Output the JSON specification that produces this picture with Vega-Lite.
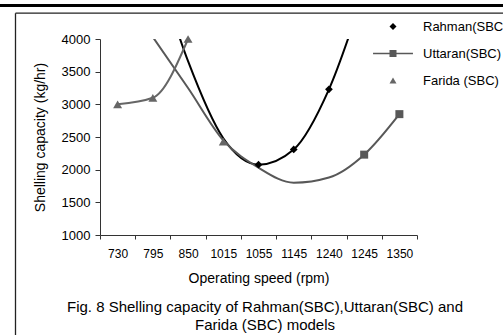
{
  "$schema": "https://vega.github.io/schema/vega-lite/v6.json",
  "autosize": {"type": "none"},
  "width": 317,
  "height": 196,
  "padding": {"left": 100, "top": 39, "right": 86, "bottom": 100},
  "background": "white",
  "config": {
    "font": "Liberation Sans",
    "view": {"stroke": null},
    "axis": {"labelColor": "#000", "titleColor": "#000", "titleFontWeight": "normal", "grid": false},
    "legend": {"labelColor": "#000"}
  },
  "title": {
    "text": ["Fig. 8 Shelling capacity of Rahman(SBC),Uttaran(SBC) and", "Farida (SBC) models"],
    "orient": "bottom",
    "anchor": "middle",
    "frame": "group",
    "offset": 0,
    "dx": 6.5,
    "dy": -61,
    "fontSize": 15,
    "fontWeight": "normal",
    "lineHeight": 18,
    "color": "#000"
  },
  "datasets": {
    "curves": [
      {"model": "Rahman(SBC)", "speed": "795", "capacity": 5300},
      {"model": "Rahman(SBC)", "speed": "850", "capacity": 3660},
      {"model": "Rahman(SBC)", "speed": "1015", "capacity": 2480},
      {"model": "Rahman(SBC)", "speed": "1055", "capacity": 2077},
      {"model": "Rahman(SBC)", "speed": "1145", "capacity": 2310},
      {"model": "Rahman(SBC)", "speed": "1240", "capacity": 3230},
      {"model": "Rahman(SBC)", "speed": "1245", "capacity": 4740},
      {"model": "Uttaran(SBC)", "speed": "795", "capacity": 4030},
      {"model": "Uttaran(SBC)", "speed": "850", "capacity": 3250},
      {"model": "Uttaran(SBC)", "speed": "1015", "capacity": 2450},
      {"model": "Uttaran(SBC)", "speed": "1055", "capacity": 2030},
      {"model": "Uttaran(SBC)", "speed": "1145", "capacity": 1800},
      {"model": "Uttaran(SBC)", "speed": "1240", "capacity": 1880},
      {"model": "Uttaran(SBC)", "speed": "1245", "capacity": 2230},
      {"model": "Uttaran(SBC)", "speed": "1350", "capacity": 2850},
      {"model": "Farida (SBC)", "speed": "730", "capacity": 3000},
      {"model": "Farida (SBC)", "speed": "795", "capacity": 3100},
      {"model": "Farida (SBC)", "speed": "850", "capacity": 4000}
    ],
    "markers": [
      {"model": "Rahman(SBC)", "speed": "1055", "capacity": 2077},
      {"model": "Rahman(SBC)", "speed": "1145", "capacity": 2310},
      {"model": "Rahman(SBC)", "speed": "1240", "capacity": 3230},
      {"model": "Uttaran(SBC)", "speed": "1245", "capacity": 2230},
      {"model": "Uttaran(SBC)", "speed": "1350", "capacity": 2850},
      {"model": "Farida (SBC)", "speed": "730", "capacity": 3000},
      {"model": "Farida (SBC)", "speed": "795", "capacity": 3100},
      {"model": "Farida (SBC)", "speed": "850", "capacity": 4000},
      {"model": "Farida (SBC)", "speed": "1015", "capacity": 2430}
    ]
  },
  "resolve": {"scale": {"x": "independent", "y": "independent"}},
  "layer": [
    {
      "encoding": {
        "x": {
          "field": "speed", "type": "ordinal", "bandPosition": 0.5,
          "scale": {"type": "band", "domain": ["730", "795", "850", "1015", "1055", "1145", "1240", "1245", "1350"], "paddingInner": 0, "paddingOuter": 0},
          "axis": {
            "title": "Operating speed (rpm)", "tickBand": "extent", "labelAngle": 0,
            "tickSize": 4, "labelPadding": 9, "labelFontSize": 12,
            "titleFontSize": 14, "titlePadding": 12,
            "domainColor": "#333", "tickColor": "#333"
          }
        },
        "y": {
          "field": "capacity", "type": "quantitative",
          "scale": {"domain": [1000, 4000], "nice": false, "zero": false},
          "axis": {
            "title": "Shelling capacity (kg/hr)", "values": [1000, 1500, 2000, 2500, 3000, 3500, 4000],
            "format": "d",
            "tickSize": 5, "labelPadding": 5, "labelFontSize": 13,
            "titleFontSize": 14, "titlePadding": 14,
            "domainColor": "#333", "tickColor": "#333"
          }
        },
        "color": {
          "field": "model", "type": "nominal",
          "scale": {"domain": ["Rahman(SBC)", "Uttaran(SBC)", "Farida (SBC)"], "range": ["#000000", "#585858", "#666666"]},
          "legend": {
            "title": null, "orient": "none", "legendX": 286.5, "legendY": -19,
            "direction": "vertical", "padding": 0,
            "symbolSize": 49, "symbolStrokeWidth": 0, "symbolOpacity": 1,
            "labelFontSize": 13, "labelOffset": 23.5, "rowPadding": 13
          }
        }
      },
      "layer": [
        {
          "data": {"name": "curves"},
          "mark": {"type": "line", "interpolate": "monotone", "strokeWidth": 2, "clip": true}
        },
        {
          "data": {"name": "markers"},
          "transform": [{"filter": "false"}],
          "mark": {"type": "point", "filled": true, "opacity": 1, "strokeWidth": 0},
          "encoding": {
            "shape": {
              "field": "model", "type": "nominal",
              "scale": {"domain": ["Rahman(SBC)", "Uttaran(SBC)", "Farida (SBC)"], "range": ["diamond", "M-5.7,-0.22H5.7V0.22H-5.7Z M-1,-1H1V1H-1Z", "triangle-up"]}
            }
          }
        },
        {
          "data": {"name": "markers"},
          "transform": [{"filter": {"field": "model", "equal": "Rahman(SBC)"}}],
          "mark": {"type": "point", "filled": true, "opacity": 1, "strokeWidth": 0, "shape": "diamond", "size": 60}
        },
        {
          "data": {"name": "markers"},
          "transform": [{"filter": {"field": "model", "equal": "Uttaran(SBC)"}}],
          "mark": {"type": "point", "filled": true, "opacity": 1, "strokeWidth": 0, "shape": "square", "size": 64}
        },
        {
          "data": {"name": "markers"},
          "transform": [{"filter": {"field": "model", "equal": "Farida (SBC)"}}],
          "mark": {"type": "point", "filled": true, "opacity": 1, "strokeWidth": 0, "shape": "triangle-up", "size": 80}
        }
      ]
    },
    {
      "data": {"name": "markers"},
      "mark": {"type": "point", "opacity": 0},
      "encoding": {
        "x": {
          "field": "capacity", "type": "quantitative",
          "scale": {"range": [-85, 403], "zero": false},
          "axis": {"orient": "top", "offset": 26.3, "domainColor": "#222", "domainWidth": 1.3, "ticks": false, "labels": false, "title": null, "grid": false}
        },
        "y": {
          "field": "capacity", "type": "quantitative",
          "scale": {"range": [296, -26.3], "zero": false},
          "axis": {"orient": "left", "offset": 85, "domainColor": "#222", "domainWidth": 1.3, "ticks": false, "labels": false, "title": null, "grid": false}
        }
      }
    },
    {
      "data": {"name": "markers"},
      "mark": {"type": "point", "opacity": 0},
      "encoding": {
        "x": {
          "field": "capacity", "type": "quantitative",
          "scale": {"range": [-105, 410], "zero": false},
          "axis": {"orient": "top", "offset": 34, "domainColor": "#000", "domainWidth": 3.2, "ticks": false, "labels": false, "title": null, "grid": false}
        }
      }
    }
  ]
}
